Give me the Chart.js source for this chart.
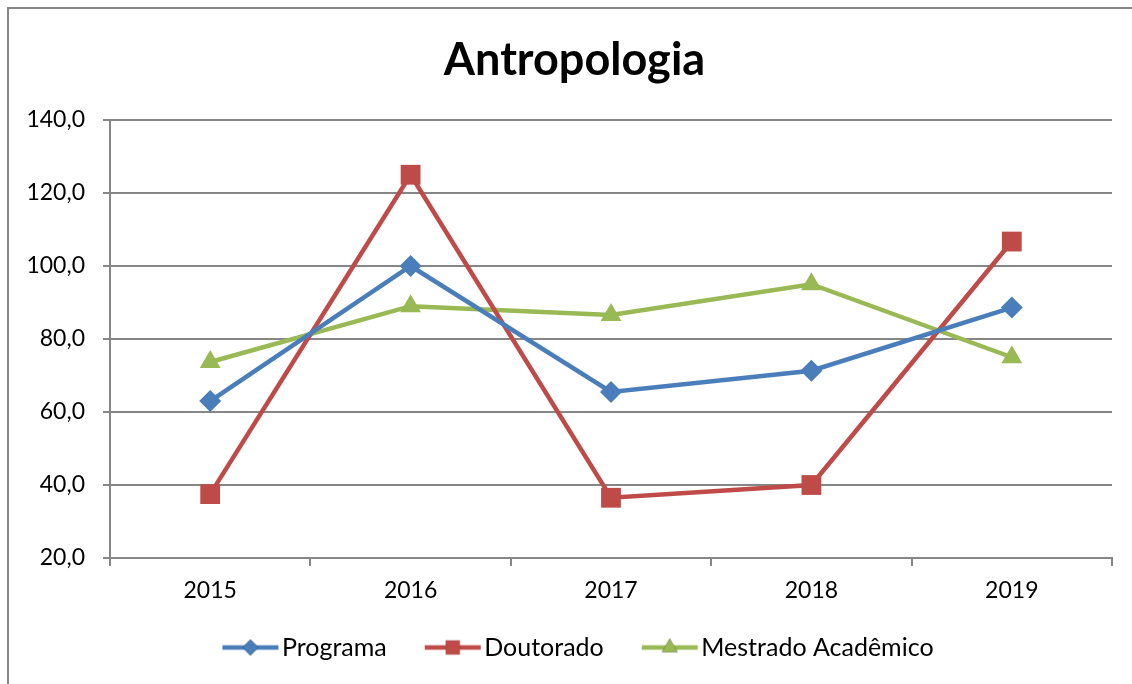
<!DOCTYPE html>
<html>
<head>
<meta charset="utf-8">
<script src="https://cdn.jsdelivr.net/npm/chart.js@4"></script>
<style>
  html, body { margin: 0; padding: 0; background: #fff; }
  #wrap { width: 1132px; height: 684px; }
</style>
</head>
<body>
<div id="wrap"><canvas id="chart" width="1132" height="684"></canvas></div>
<script>
const anos = ['2015', '2016', '2017', '2018', '2019'];
const programa = [63.0, 100.0, 65.5, 71.3, 88.6];
const doutorado = [37.5, 125.0, 36.5, 40.0, 106.7];
const mestrado = [73.7, 89.0, 86.6, 95.0, 75.0];

const FONTE = 'Lato, "Open Sans", sans-serif';
const CINZA = '#868686';

// icone da legenda: linha com o marcador no meio (canvas mais largo que a caixa)
function iconeLegenda(cor, estilo, raio) {
  const c = document.createElement('canvas');
  c.width = 76; c.height = 22;
  const ctx = c.getContext('2d');
  ctx.strokeStyle = cor;
  ctx.lineWidth = 4.5;
  ctx.beginPath();
  ctx.moveTo(18, 11); ctx.lineTo(74, 11);
  ctx.stroke();
  Chart.helpers.drawPoint(ctx, { pointStyle: estilo, radius: raio, rotation: 0, borderWidth: 0 }, 46, 11);
  ctx.fillStyle = cor;
  ctx.fill();
  return c;
}

const moldura = {
  id: 'moldura',
  beforeDraw(chart) {
    const ctx = chart.ctx;
    ctx.save();
    ctx.fillStyle = '#fff';
    ctx.fillRect(0, 0, chart.width, chart.height);
    ctx.strokeStyle = CINZA;
    ctx.lineWidth = 2;
    ctx.strokeRect(8, 8, chart.width + 20, chart.height + 20);
    ctx.restore();
  }
};

const series = [
  { label: 'Programa', data: programa, cor: '#4A7EBB', estilo: 'rectRot', raio: 11, raioLeg: 8 },
  { label: 'Doutorado', data: doutorado, cor: '#BE4B48', estilo: 'rect', raio: 14, raioLeg: 10 },
  { label: 'Mestrado Acadêmico', data: mestrado, cor: '#98B954', estilo: 'triangle', raio: 12, raioLeg: 9 }
];

new Chart(document.getElementById('chart'), {
  type: 'line',
  data: {
    labels: anos,
    datasets: series.map(s => ({
      label: s.label,
      data: s.data,
      borderColor: s.cor,
      backgroundColor: s.cor,
      borderWidth: 4.5,
      pointStyle: s.estilo,
      pointRadius: s.raio,
      pointHoverRadius: s.raio,
      pointBorderWidth: 0,
      tension: 0
    }))
  },
  options: {
    responsive: false,
    animation: false,
    layout: { padding: { left: 17, right: 0, top: 0, bottom: 14 } },
    plugins: {
      title: {
        display: true,
        text: 'Antropologia',
        color: '#000',
        font: { family: FONTE, size: 45, weight: 'bold' },
        padding: { top: 33, bottom: 33 }
      },
      legend: {
        position: 'bottom',
        labels: {
          usePointStyle: true,
          pointStyleWidth: 54,
          padding: 31,
          color: '#000',
          font: { family: FONTE, size: 25 },
          generateLabels: () => series.map((s, i) => ({
            text: s.label,
            datasetIndex: i,
            pointStyle: iconeLegenda(s.cor, s.estilo, s.raioLeg),
            fillStyle: s.cor,
            strokeStyle: s.cor,
            lineWidth: 0
          }))
        }
      },
      tooltip: { enabled: false }
    },
    scales: {
      x: {
        offset: true,
        afterFit: scale => { scale.height = 46; scale.paddingRight = 20; },
        grid: { offset: true, drawOnChartArea: false, color: CINZA, lineWidth: 2, tickLength: 8 },
        border: { color: CINZA, width: 2 },
        ticks: { color: '#000', font: { family: FONTE, size: 23 }, padding: 11 }
      },
      y: {
        min: 20,
        max: 140,
        afterFit: scale => { scale.width = 93; },
        grid: { color: CINZA, lineWidth: 2, tickLength: 7 },
        border: { color: CINZA, width: 2 },
        ticks: {
          stepSize: 20,
          color: '#000',
          padding: 18,
          font: { family: FONTE, size: 23 },
          callback: v => v.toFixed(1).replace('.', ',')
        }
      }
    }
  },
  plugins: [moldura]
});
</script>
</body>
</html>
